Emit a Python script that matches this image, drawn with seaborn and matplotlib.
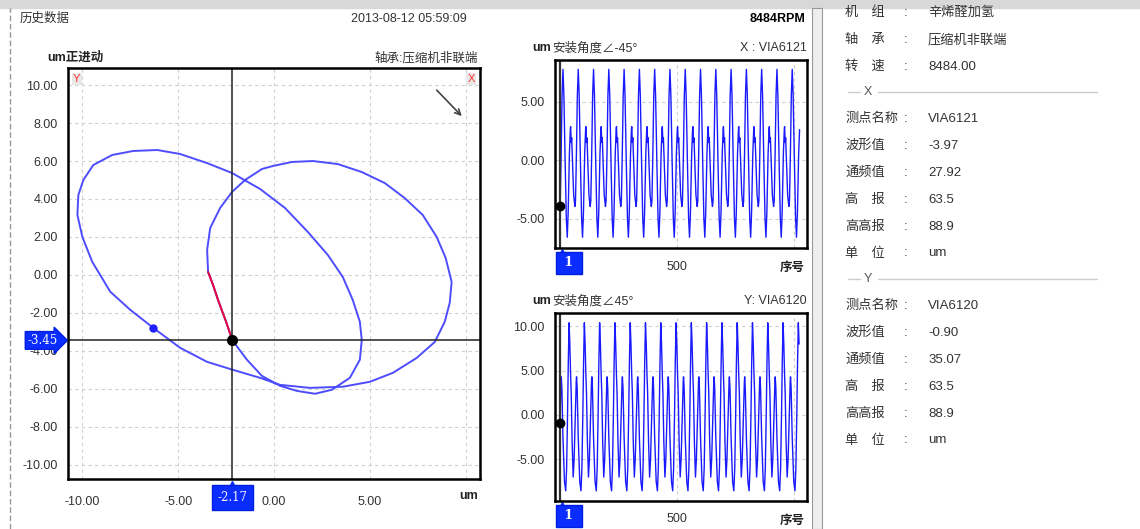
import numpy as np
import pandas as pd
import seaborn as sns
import matplotlib.pyplot as plt
from matplotlib.ticker import MultipleLocator, FormatStrFormatter, FixedLocator
from matplotlib.patches import Rectangle

# orbit path (um), starting at the cursor point
orbit_x = [-2.17, -2.50, -2.92, -3.18, -3.44, -3.49, -3.33, -2.81, -2.19, -1.51,
           -0.63, -0.05, 0.94, 2.03, 3.33, 4.58, 5.78, 6.82, 7.76, 8.49,
           8.96, 9.27, 9.17, 8.91, 8.39, 7.45, 6.20, 5.00, 3.59, 1.88,
           0.31, -0.73, -2.14, -3.49, -4.90, -6.30, -7.50, -8.54, -9.48, -10.00,
           -10.26, -10.21, -9.95, -9.43, -8.44, -7.34, -6.09, -4.90, -3.49, -2.19,
           -0.73, 0.57, 1.77, 2.81, 3.59, 4.11, 4.48, 4.58, 4.48, 3.96,
           3.02, 2.14, 1.20, 0.31, -0.63, -1.41, -2.17]
orbit_y = [-3.45, -2.47, -1.32, -0.53, 0.16, 1.32, 2.47, 3.53, 4.37, 5.00,
           5.58, 5.74, 5.95, 6.00, 5.84, 5.42, 4.84, 4.05, 3.16, 2.00,
           0.89, -0.37, -1.47, -2.47, -3.53, -4.37, -5.16, -5.63, -5.89, -5.95,
           -5.79, -5.42, -5.00, -4.58, -3.84, -2.79, -1.84, -0.89, 0.68, 2.00,
           3.16, 4.21, 5.00, 5.79, 6.32, 6.53, 6.58, 6.37, 5.89, 5.37,
           4.53, 3.53, 2.26, 1.05, -0.11, -1.32, -2.47, -3.42, -4.47, -5.42,
           -6.05, -6.26, -6.11, -5.84, -5.32, -4.47, -3.45]
n_red = 5  # latest samples drawn in red

cursor_x, cursor_y = -2.17, -3.45
key_x, key_y = -6.30, -2.79

# waveform shape over one revolution (phase 0 = big peak)
phase_x = [0.00, 0.06, 0.14, 0.22, 0.28, 0.34, 0.42, 0.48, 0.50, 0.54, 0.57,
           0.62, 0.70, 0.78, 0.82, 0.88, 0.94]
level_x = [7.75, 5.50, 0.00, -5.00, -6.60, -4.50, 0.50, 2.60, 2.85, 1.50, 1.90,
           0.00, -3.00, -3.97, -3.50, 0.50, 5.50]
phase_y = [0.00, 0.05, 0.10, 0.14, 0.20, 0.27, 0.33, 0.40, 0.47, 0.49, 0.53,
           0.60, 0.70, 0.78, 0.84, 0.90, 0.95]
level_y = [10.40, 8.00, 4.50, 2.50, -3.00, -7.00, -5.00, -0.50, 3.80, 4.30, 3.00,
           -2.50, -7.50, -8.55, -6.00, 0.00, 6.00]
period = 65.2
first_peak_x = 14
first_peak_y = 40
n_samples = 1024
start_x = -3.97
start_y = -0.90

info_x = [("机　组", "辛烯醛加氢"), ("轴　承", "压缩机非联端"), ("转　速", "8484.00")]
info_ch_x = [("测点名称", "VIA6121"), ("波形值", "-3.97"), ("通频值", "27.92"),
             ("高　报", "63.5"), ("高高报", "88.9"), ("单　位", "um")]
info_ch_y = [("测点名称", "VIA6120"), ("波形值", "-0.90"), ("通频值", "35.07"),
             ("高　报", "63.5"), ("高高报", "88.9"), ("单　位", "um")]


def wave_points(first_peak, phases, levels, start_val):
    s, v = [1], [start_val]
    for c in range(-1, 18):
        for p, lv in zip(phases, levels):
            pos = first_peak + (c + p) * period
            if 1 < pos <= n_samples:
                s.append(pos)
                v.append(lv)
    return pd.DataFrame({"sample": s, "um": v})


sns.set_style("white")
plt.rcParams['font.family'] = ['Liberation Sans', 'Noto Sans CJK SC', 'DejaVu Sans']
plt.rcParams['axes.unicode_minus'] = False

W, H = 1140, 529
fig = plt.figure(figsize=(W / 100, H / 100), dpi=100)
TXT = '#333333'
BLUE_TAG = '#0a2cff'


def ftext(px, py, s, **kw):
    kw.setdefault('va', 'center')
    kw.setdefault('color', TXT)
    kw.setdefault('fontsize', 9)
    return fig.text(px / W, 1 - py / H, s, **kw)


def fax(x0, y0, x1, y1):
    return fig.add_axes([x0 / W, 1 - y1 / H, (x1 - x0) / W, (y1 - y0) / H])


def style_frame(ax):
    for sp in ax.spines.values():
        sp.set_visible(True)
        sp.set_color('black')
        sp.set_linewidth(1.8)
    ax.tick_params(which='both', direction='out', colors='#333333', labelsize=9,
                   labelcolor=TXT)
    ax.tick_params(which='major', length=4, width=1)
    ax.tick_params(which='minor', length=2, width=1)
    ax.grid(True, which='major', ls=(0, (3, 3)), color='#d0d0d0', lw=0.8)
    ax.set_xlabel('')
    ax.set_ylabel('')


# window chrome
fig.patches.append(Rectangle((0, 1 - 8 / H), 1, 8 / H, transform=fig.transFigure,
                             color='#d8d8d8', zorder=0))
fig.patches.append(Rectangle((812 / W, 0), 10 / W, 1 - 8 / H, transform=fig.transFigure,
                             facecolor='#eeeeee', edgecolor='#999999', lw=0.8, zorder=0))
fig.lines.append(plt.Line2D([10 / W, 10 / W], [0, 1 - 8 / H], transform=fig.transFigure,
                            color='#999999', lw=1, ls=(0, (4, 2))))

ftext(20, 19, "历史数据")
ftext(467, 19, "2013-08-12 05:59:09", ha='right')
ftext(805, 19, "8484RPM", ha='right', fontweight='bold', color='black')

# orbit plot
ax = fax(68, 68, 480, 479)
orbit = pd.DataFrame({"x": orbit_x, "y": orbit_y})
sns.lineplot(data=orbit, x="x", y="y", sort=False, estimator=None,
             color='#4d4dff', lw=1.4, ax=ax)
sns.lineplot(data=orbit.iloc[:n_red], x="x", y="y", sort=False, estimator=None,
             color='#e8003a', lw=1.4, ax=ax)
ax.axvline(cursor_x, color='#222222', lw=1.1)
ax.axhline(cursor_y, color='#222222', lw=1.1)
ax.plot([cursor_x], [cursor_y], 'o', color='black', ms=7, zorder=5)
ax.plot([key_x], [key_y], 'o', color='#2020ff', ms=5, zorder=5)
ax.set_xlim(-10.75, 10.75)
ax.set_ylim(-10.75, 10.9)
ax.xaxis.set_major_locator(MultipleLocator(5))
ax.xaxis.set_minor_locator(MultipleLocator(1))
ax.yaxis.set_major_locator(MultipleLocator(2))
ax.yaxis.set_minor_locator(MultipleLocator(2 / 6))
ax.xaxis.set_major_formatter(lambda v, p: "" if v > 9 else f"{v:.2f}")
ax.yaxis.set_major_formatter(FormatStrFormatter('%.2f'))
style_frame(ax)
ax.tick_params(axis='x', which='major', pad=8)
ax.text(0.012, 0.985, "Y", transform=ax.transAxes, color='#ff3030', fontsize=8,
        ha='left', va='top', bbox=dict(facecolor='#e8e8e8', edgecolor='none', pad=1))
ax.text(0.988, 0.985, "X", transform=ax.transAxes, color='#ff3030', fontsize=8,
        ha='right', va='top', bbox=dict(facecolor='#e8e8e8', edgecolor='none', pad=1))
ax.annotate("", xy=(9.9, 8.26), xytext=(8.39, 9.84),
            arrowprops=dict(arrowstyle='->', color='#444444', lw=1.2))
ax.text(-0.098, cursor_y, "-3.45", transform=ax.get_yaxis_transform(), color='white',
        fontsize=8.5, family='DejaVu Serif', ha='left', va='center',
        bbox=dict(boxstyle='rarrow,pad=0.2', facecolor=BLUE_TAG, edgecolor='#0020e0'))
ax.text(cursor_x, -0.03, "-2.17", transform=ax.get_xaxis_transform(), color='white',
        fontsize=8.5, family='DejaVu Serif', ha='center', va='top',
        bbox=dict(boxstyle='square,pad=0.5', facecolor=BLUE_TAG, edgecolor='#0020e0'))
ax.plot([cursor_x], [-0.018], marker='^', color=BLUE_TAG, ms=7,
        transform=ax.get_xaxis_transform(), clip_on=False)

ftext(47, 58, "um正进动", fontweight='bold', color='#222222')
ftext(478, 58, "轴承:压缩机非联端", ha='right')
ftext(459, 496, "um", fontweight='bold', color='#222222')


# waveforms
def wave_axes(y0, y1, df, ylim, yticks, title, tag, start_val):
    wx = fax(555, y0, 807, y1)
    sns.lineplot(data=df, x="sample", y="um", sort=False, estimator=None,
                 color='#1a1aff', lw=1.0, ax=wx)
    wx.axvline(1, color='#333333', lw=1.6)
    wx.plot([1], [start_val], 'o', color='black', ms=6, zorder=5, clip_on=False)
    wx.set_xlim(-20, 1055)
    wx.set_ylim(*ylim)
    wx.xaxis.set_major_locator(FixedLocator([500, 1000]))
    wx.xaxis.set_major_formatter(lambda v, p: "500" if v == 500 else "")
    wx.xaxis.set_minor_locator(MultipleLocator(100))
    wx.yaxis.set_major_locator(FixedLocator(yticks))
    wx.yaxis.set_minor_locator(MultipleLocator(1))
    wx.yaxis.set_major_formatter(FormatStrFormatter('%.2f'))
    style_frame(wx)
    wx.tick_params(axis='x', which='major', pad=5)
    ftext(551, y0 - 12, "um", fontweight='bold', color='#222222', ha='right')
    ftext(552, y0 - 12, title)
    ftext(807, y0 - 12, tag, ha='right')
    ftext(805, y1 + 20, "序号", ha='right', fontweight='bold', color='#222222')
    wx.text(1, -0.045, " 1 ", transform=wx.get_xaxis_transform(), color='white',
            fontsize=9, family='DejaVu Serif', fontweight='bold', ha='left', va='top',
            bbox=dict(boxstyle='square,pad=0.35', facecolor=BLUE_TAG, edgecolor='#0020e0'))
    wx.plot([8], [-0.03], marker='^', color=BLUE_TAG, ms=7,
            transform=wx.get_xaxis_transform(), clip_on=False)
    return wx


wave_axes(60, 248, wave_points(first_peak_x, phase_x, level_x, start_x),
          (-7.52, 8.55), [5, 0, -5], "安装角度∠-45°", "X : VIA6121", start_x)
wave_axes(313, 501, wave_points(first_peak_y, phase_y, level_y, start_y),
          (-9.7, 11.5), [10, 5, 0, -5], "安装角度∠45°", "Y: VIA6120", start_y)


# info panel
def info_rows(rows, y_start):
    y = y_start
    for lab, val in rows:
        ftext(845, y, lab, fontsize=9.5)
        ftext(906, y, ":", fontsize=9.5, ha='center')
        ftext(928, y, val, fontsize=9.5)
        y += 26.9
    return y


def separator(y, name):
    fig.lines.append(plt.Line2D([848 / W, 860 / W], [1 - y / H] * 2,
                                transform=fig.transFigure, color='#cccccc', lw=1))
    ftext(868, y, name, fontsize=9, ha='center', color='#555555')
    fig.lines.append(plt.Line2D([878 / W, 1097 / W], [1 - y / H] * 2,
                                transform=fig.transFigure, color='#cccccc', lw=1))


info_rows(info_x, 13)
separator(92, "X")
info_rows(info_ch_x, 119)
separator(279, "Y")
info_rows(info_ch_y, 306)

fig.savefig("out.png", dpi=100)
